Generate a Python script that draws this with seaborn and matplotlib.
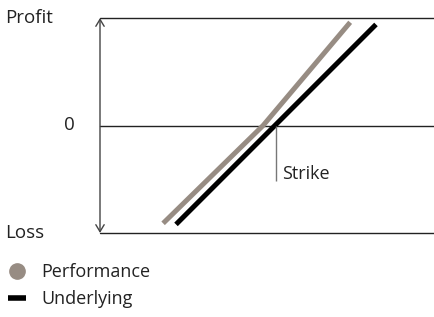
import numpy as np
import pandas as pd
import matplotlib
matplotlib.use("Agg")
import matplotlib.pyplot as plt
import seaborn as sns
from matplotlib.lines import Line2D

# =========================
# DATA
# =========================

# underlying price relative to strike, profit/loss in same units
underlying_x = [-0.93, 0.93]
underlying_y = [-0.92, 0.94]

performance_x = [-1.05, -0.12, 0.69]
performance_y = [-0.91, 0.0, 0.96]

strike_x = 0.0
strike_tick_bottom = -0.52

series_names = ["Performance", "Underlying"]
y_labels = ["Profit", "0", "Loss"]

# =========================
# STYLE
# =========================

sns.set_style("white")
plt.rcParams["font.family"] = ["Open Sans", "DejaVu Sans"]

gray = "#978c83"
fs = 13.5

fig = plt.figure(figsize=(4.35, 3.17), dpi=100)
ax = fig.add_axes([100 / 435, (317 - 233) / 317, 335 / 435, 215 / 317])
ax.set_xlim(-1.637, 1.479)
ax.set_ylim(-1, 1)
ax.axis("off")

# =========================
# LINES
# =========================

sns.lineplot(x=performance_x, y=performance_y, color=gray, linewidth=3.6,
             ax=ax, solid_capstyle="butt", sort=False)
sns.lineplot(x=underlying_x, y=underlying_y, color="black", linewidth=3.6,
             ax=ax, solid_capstyle="butt", sort=False)

# frame lines
for yv in [1, 0, -1]:
    ax.axhline(yv, color="#222222", linewidth=1.0, zorder=1, clip_on=False)

ax.annotate("", xy=(-1.637, 1), xytext=(-1.637, -1),
            xycoords="data", annotation_clip=False,
            arrowprops=dict(arrowstyle="<->,head_length=0.5,head_width=0.3",
                            color="#444444", lw=1.0,
                            shrinkA=0, shrinkB=0))

# strike tick
ax.vlines(strike_x, strike_tick_bottom, 0, color="#777777", linewidth=1.0)
ax.text(strike_x + 0.06, -0.45, "Strike", fontsize=fs - 0.5, va="center",
        ha="left", color="#222222")

# y labels
ax.text(-2.52, 1.0, y_labels[0], fontsize=fs, va="center", ha="left",
        color="#222222", clip_on=False)
ax.text(-1.92, 0.0, y_labels[1], fontsize=fs, va="center", ha="center",
        color="#222222", clip_on=False)
ax.text(-2.52, -1.0, y_labels[2], fontsize=fs, va="center", ha="left",
        color="#222222", clip_on=False)

# =========================
# LEGEND
# =========================

handles = [
    Line2D([], [], marker="o", linestyle="none", color=gray, markersize=11),
    Line2D([], [], color="black", linewidth=4, solid_capstyle="butt"),
]

fig.legend(handles, series_names, loc="upper left",
           bbox_to_anchor=(-0.003, 1 - 254 / 317), frameon=False,
           fontsize=fs - 0.5, handlelength=1.0, handletextpad=0.85,
           labelspacing=0.5, borderaxespad=0.1, labelcolor="#222222")

fig.savefig("out.png", dpi=100)
